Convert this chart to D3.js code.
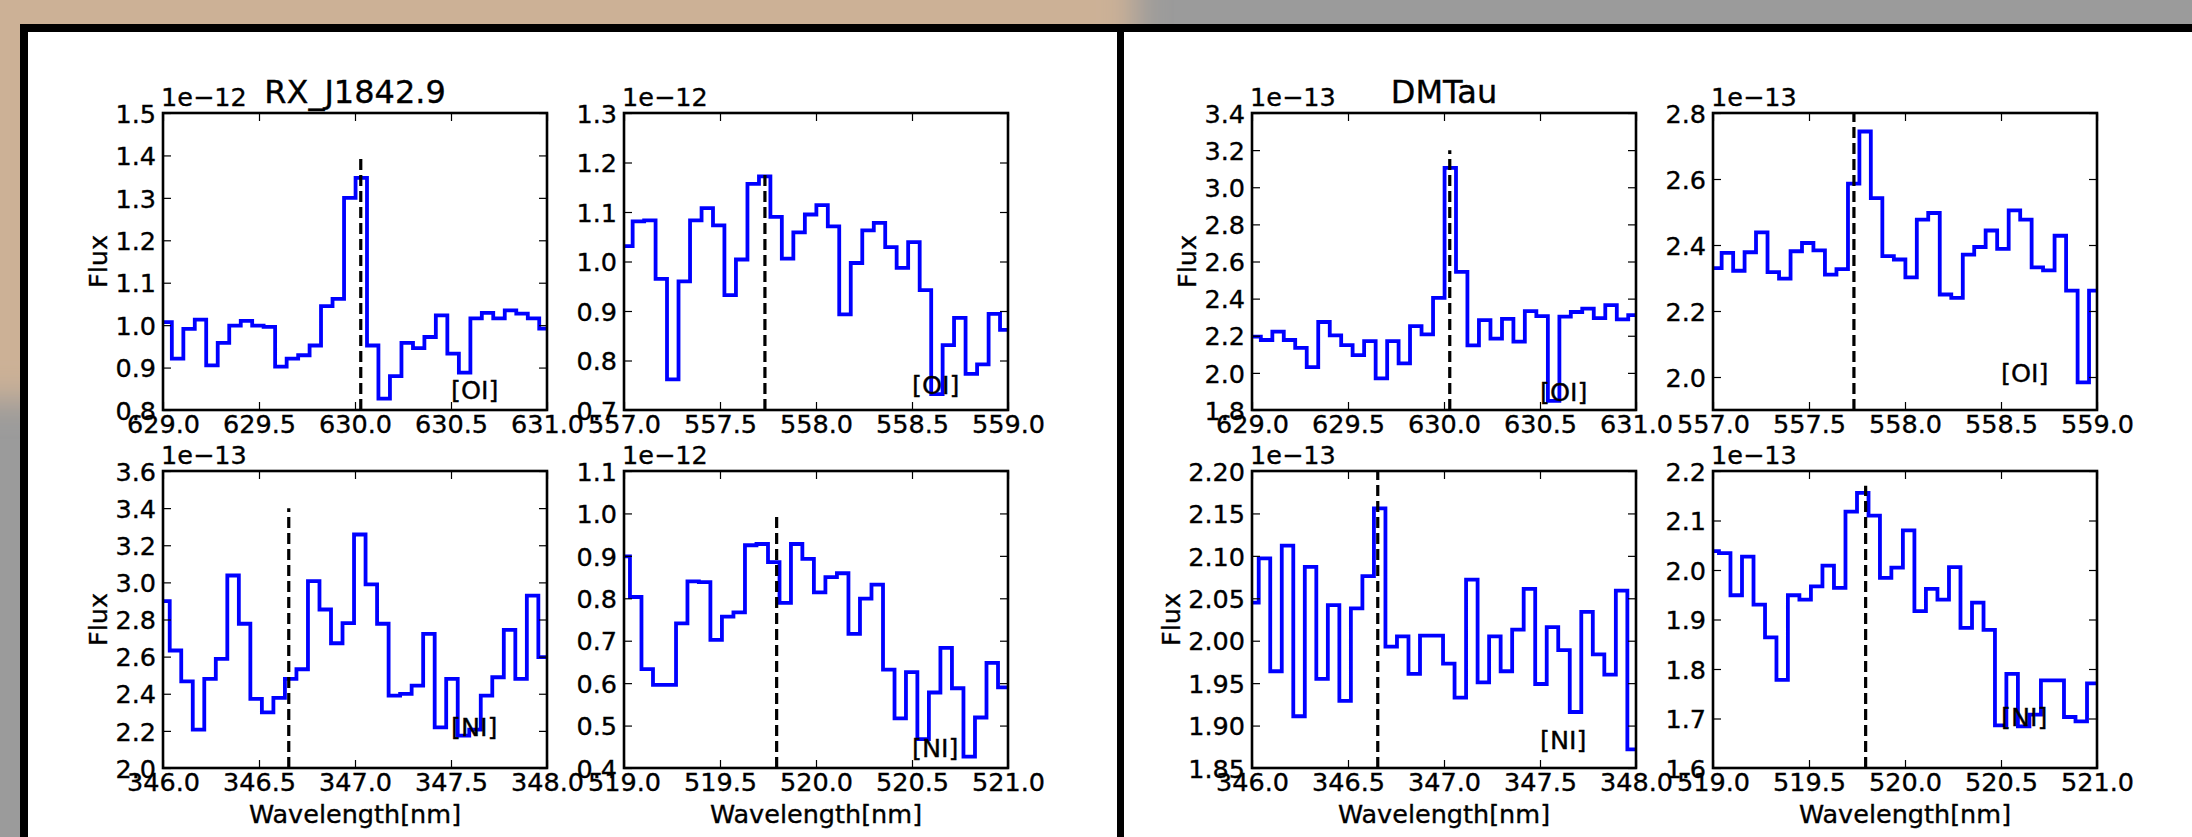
<!DOCTYPE html>
<html>
<head>
<meta charset="utf-8">
<script src="https://cdn.jsdelivr.net/npm/d3@7"></script>
<style>
  body { margin: 0; overflow: hidden; background: #9b9b9b; }
  text { font-family: "DejaVu Sans", sans-serif; fill: #000; stroke: #000; stroke-width: 0.35px; }
</style>
</head>
<body>
<div id="chart"></div>
<script>
// WAVELENGTH GRIDS (BIN CENTRES, nm) - SAME FOR BOTH STARS
const wave630 = [629.016, 629.076, 629.136, 629.195, 629.255, 629.315, 629.375, 629.435, 629.494, 629.554, 629.614, 629.674, 629.734, 629.793, 629.853, 629.913, 629.973, 630.033, 630.092, 630.152, 630.212, 630.272, 630.332, 630.391, 630.451, 630.511, 630.571, 630.631, 630.690, 630.750, 630.810, 630.870, 630.930, 630.989];
const wave557 = [557.015, 557.075, 557.135, 557.194, 557.254, 557.314, 557.374, 557.434, 557.493, 557.553, 557.613, 557.673, 557.733, 557.792, 557.852, 557.912, 557.972, 558.032, 558.091, 558.151, 558.211, 558.271, 558.331, 558.390, 558.450, 558.510, 558.570, 558.630, 558.689, 558.749, 558.809, 558.869, 558.929, 558.988];
const wave346 = [346.005, 346.065, 346.125, 346.185, 346.245, 346.305, 346.365, 346.425, 346.485, 346.545, 346.605, 346.665, 346.725, 346.785, 346.845, 346.905, 346.965, 347.025, 347.085, 347.145, 347.205, 347.265, 347.325, 347.385, 347.445, 347.505, 347.565, 347.625, 347.685, 347.745, 347.805, 347.865, 347.925, 347.985];
const wave520 = [519.001, 519.061, 519.121, 519.181, 519.241, 519.301, 519.360, 519.420, 519.480, 519.540, 519.600, 519.660, 519.720, 519.780, 519.840, 519.899, 519.959, 520.019, 520.079, 520.139, 520.199, 520.259, 520.319, 520.379, 520.439, 520.498, 520.558, 520.618, 520.678, 520.738, 520.798, 520.858, 520.918, 520.978];

// RX_J1842.9 FLUX (IN UNITS OF THE OFFSET TEXT)
const rxFlux630 = [1.007, 0.921, 0.991, 1.013, 0.905, 0.958, 0.999, 1.010, 0.999, 0.996, 0.902, 0.921, 0.929, 0.952, 1.045, 1.062, 1.300, 1.347, 0.952, 0.827, 0.880, 0.958, 0.946, 0.972, 1.023, 0.933, 0.888, 1.016, 1.029, 1.016, 1.035, 1.027, 1.016, 0.992];
const rxFlux557 = [1.031, 1.081, 1.083, 0.965, 0.762, 0.960, 1.083, 1.108, 1.073, 0.932, 1.004, 1.157, 1.172, 1.090, 1.006, 1.059, 1.095, 1.114, 1.071, 0.893, 0.997, 1.063, 1.078, 1.029, 0.987, 1.039, 0.942, 0.732, 0.831, 0.886, 0.773, 0.792, 0.894, 0.862];
const rxFlux346 = [2.899, 2.633, 2.467, 2.207, 2.480, 2.588, 3.037, 2.777, 2.372, 2.300, 2.378, 2.480, 2.532, 3.007, 2.854, 2.672, 2.780, 3.258, 2.989, 2.777, 2.390, 2.399, 2.444, 2.723, 2.219, 2.480, 2.174, 2.207, 2.390, 2.489, 2.744, 2.480, 2.929, 2.597];
const rxFlux520 = [0.899, 0.803, 0.633, 0.596, 0.596, 0.741, 0.840, 0.838, 0.702, 0.757, 0.767, 0.925, 0.928, 0.885, 0.789, 0.928, 0.893, 0.814, 0.850, 0.859, 0.716, 0.799, 0.832, 0.632, 0.517, 0.626, 0.468, 0.578, 0.683, 0.588, 0.427, 0.519, 0.648, 0.590];

// DMTau FLUX
const dmFlux630 = [2.195, 2.177, 2.222, 2.177, 2.135, 2.031, 2.274, 2.202, 2.150, 2.096, 2.171, 1.970, 2.171, 2.051, 2.252, 2.207, 2.404, 3.104, 2.544, 2.148, 2.284, 2.184, 2.291, 2.168, 2.333, 2.306, 1.849, 2.303, 2.328, 2.346, 2.295, 2.365, 2.288, 2.311];
const dmFlux557 = [2.330, 2.376, 2.322, 2.378, 2.438, 2.318, 2.298, 2.381, 2.406, 2.384, 2.310, 2.327, 2.586, 2.744, 2.542, 2.366, 2.356, 2.302, 2.477, 2.497, 2.250, 2.240, 2.371, 2.394, 2.444, 2.388, 2.505, 2.477, 2.332, 2.323, 2.428, 2.262, 1.984, 2.262];
const dmFlux346 = [2.045, 2.097, 1.964, 2.112, 1.911, 2.087, 1.955, 2.042, 1.929, 2.038, 2.076, 2.156, 1.993, 2.005, 1.961, 2.006, 2.006, 1.973, 1.933, 2.072, 1.951, 2.005, 1.964, 2.013, 2.061, 1.949, 2.016, 1.989, 1.916, 2.034, 1.984, 1.960, 2.059, 1.872];
const dmFlux520 = [2.038, 2.034, 1.949, 2.027, 1.930, 1.864, 1.778, 1.949, 1.940, 1.967, 2.009, 1.964, 2.118, 2.156, 2.110, 1.984, 2.005, 2.080, 1.917, 1.962, 1.940, 2.006, 1.883, 1.934, 1.879, 1.686, 1.790, 1.684, 1.708, 1.777, 1.777, 1.703, 1.694, 1.771];

// X TICK LABELS
const xTicks630 = ["629.0", "629.5", "630.0", "630.5", "631.0"];
const xTicks557 = ["557.0", "557.5", "558.0", "558.5", "559.0"];
const xTicks346 = ["346.0", "346.5", "347.0", "347.5", "348.0"];
const xTicks520 = ["519.0", "519.5", "520.0", "520.5", "521.0"];

// Y TICK LABELS AND LIMITS
const rxYTicks630 = ["0.8", "0.9", "1.0", "1.1", "1.2", "1.3", "1.4", "1.5"];
const rxYTicks557 = ["0.7", "0.8", "0.9", "1.0", "1.1", "1.2", "1.3"];
const rxYTicks346 = ["2.0", "2.2", "2.4", "2.6", "2.8", "3.0", "3.2", "3.4", "3.6"];
const rxYTicks520 = ["0.4", "0.5", "0.6", "0.7", "0.8", "0.9", "1.0", "1.1"];
const dmYTicks630 = ["1.8", "2.0", "2.2", "2.4", "2.6", "2.8", "3.0", "3.2", "3.4"];
const dmYTicks557 = ["2.0", "2.2", "2.4", "2.6", "2.8"];
const dmYTicks346 = ["1.85", "1.90", "1.95", "2.00", "2.05", "2.10", "2.15", "2.20"];
const dmYTicks520 = ["1.6", "1.7", "1.8", "1.9", "2.0", "2.1", "2.2"];
const dmYLim557 = [1.9, 2.8];

// LINE MARKERS: REST WAVELENGTH AND TOP OF THE DASHED LINE
const lineNames = ["[OI]", "[OI]", "[NI]", "[NI]"];
const lineWaves = [630.03, 557.734, 346.655, 519.795];
const rxLineTops = [1.4, 1.18, 3.4, 1.0];
const dmLineTops = [3.2, 2.8, 2.2, 2.17];

const stars = ["RX_J1842.9", "DMTau"];
const offsets = [["1e\u221212", "1e\u221212", "1e\u221213", "1e\u221212"], ["1e\u221213", "1e\u221213", "1e\u221213", "1e\u221213"]];

// SET DIMENSIONS
const width = 2192, height = 837;
const axW = 384, axH = 297;
const figLeft = [[163, 624], [1252, 1713]];
const rowTop = [113, 471];
const FS = 25.5;

const svg = d3.select("#chart")
    .append("svg")
    .attr("width", width)
    .attr("height", height);

// BACKGROUND (DESKTOP BEHIND THE TWO WINDOWS)
const defs = svg.append("defs");
defs.append("filter")
    .attr("id", "soft")
    .attr("x", "-20%").attr("y", "-20%").attr("width", "140%").attr("height", "140%")
    .append("feGaussianBlur").attr("stdDeviation", 16);

svg.append("rect").attr("width", width).attr("height", height).attr("fill", "#9b9b9b");
svg.append("rect")
    .attr("x", -80).attr("y", -80).attr("width", 1215).attr("height", 480)
    .attr("fill", "#ccb196")
    .attr("filter", "url(#soft)");

// WINDOWS
svg.append("rect").attr("x", 20).attr("y", 24).attr("width", 1104).attr("height", 900).attr("fill", "#000");
svg.append("rect").attr("x", 28).attr("y", 32).attr("width", 1089).attr("height", 900).attr("fill", "#fff");
svg.append("rect").attr("x", 1117).attr("y", 24).attr("width", 1200).attr("height", 900).attr("fill", "#000");
svg.append("rect").attr("x", 1124).attr("y", 32).attr("width", 1200).attr("height", 900).attr("fill", "#fff");

// BUILD THE PANEL LIST FROM THE ARRAYS
const waves = [wave630, wave557, wave346, wave520];
const xTicks = [xTicks630, xTicks557, xTicks346, xTicks520];
const fluxes = [[rxFlux630, rxFlux557, rxFlux346, rxFlux520], [dmFlux630, dmFlux557, dmFlux346, dmFlux520]];
const yTicks = [[rxYTicks630, rxYTicks557, rxYTicks346, rxYTicks520], [dmYTicks630, dmYTicks557, dmYTicks346, dmYTicks520]];
const lineTops = [rxLineTops, dmLineTops];

const panels = [];
stars.forEach((star, s) => {
    for (let k = 0; k < 4; k++) {
        const yt = yTicks[s][k];
        panels.push({
            star: s, k: k,
            col: k % 2, row: Math.floor(k / 2),
            wave: waves[k], flux: fluxes[s][k],
            xTicks: xTicks[k], yTicks: yt,
            yLim: (s === 1 && k === 1) ? dmYLim557 : [+yt[0], +yt[yt.length - 1]],
            lineWave: lineWaves[k], lineTop: lineTops[s][k], lineName: lineNames[k],
            offset: offsets[s][k]
        });
    }
});

panels.forEach((p, i) => {
    const left = figLeft[p.star][p.col];
    const top = rowTop[p.row];
    const g = svg.append("g").attr("transform", `translate(${left}, ${top})`);

    // SET THE X AND Y SCALES
    const xLim = [+p.xTicks[0], +p.xTicks[p.xTicks.length - 1]];
    const x = d3.scaleLinear().domain(xLim).range([0, axW]);
    const y = d3.scaleLinear().domain(p.yLim).range([axH, 0]);

    defs.append("clipPath").attr("id", `clip${i}`)
        .append("rect").attr("width", axW).attr("height", axH);

    // STEP SPECTRUM, EXTENDED FLAT TO THE AXIS EDGES
    const pts = p.wave.map((w, j) => [w, p.flux[j]]);
    pts.unshift([xLim[0], p.flux[0]]);
    pts.push([xLim[1], p.flux[p.flux.length - 1]]);

    const line = d3.line()
        .x(d => x(d[0]))
        .y(d => y(d[1]))
        .curve(d3.curveStep);

    g.append("path")
        .datum(pts)
        .attr("d", line)
        .attr("clip-path", `url(#clip${i})`)
        .style("fill", "none")
        .style("stroke", "#0000ff")
        .style("stroke-width", 3.8)
        .style("stroke-linejoin", "miter");

    // DASHED LINE AT THE REST WAVELENGTH
    g.append("line")
        .attr("x1", x(p.lineWave)).attr("x2", x(p.lineWave))
        .attr("y1", y(p.yLim[0])).attr("y2", y(p.lineTop))
        .style("stroke", "#000")
        .style("stroke-width", 3.2)
        .style("stroke-dasharray", "11,5");

    // LINE NAME AT THE LOWEST FLUX
    g.append("text")
        .attr("x", x(xLim[0] + 1.5))
        .attr("y", y(d3.min(p.flux)))
        .style("font-size", FS + "px")
        .text(p.lineName);

    // AXES: INWARD TICKS ON ALL FOUR SIDES
    const xVals = p.xTicks.map(Number);
    const yVals = p.yTicks.map(Number);

    const gx = g.append("g")
        .attr("transform", `translate(0, ${axH})`)
        .call(d3.axisBottom(x).tickValues(xVals).tickFormat((d, j) => p.xTicks[j]).tickSize(-8).tickSizeOuter(0).tickPadding(6));
    const gy = g.append("g")
        .call(d3.axisLeft(y).tickValues(yVals).tickFormat((d, j) => p.yTicks[j]).tickSize(-8).tickSizeOuter(0).tickPadding(7));
    const gt = g.append("g")
        .call(d3.axisTop(x).tickValues(xVals).tickFormat("").tickSize(-8).tickSizeOuter(0));
    const gr = g.append("g")
        .attr("transform", `translate(${axW}, 0)`)
        .call(d3.axisRight(y).tickValues(yVals).tickFormat("").tickSize(-8).tickSizeOuter(0));

    [gx, gy, gt, gr].forEach(a => {
        a.select(".domain").remove();
        a.selectAll("line").attr("stroke", "#000").attr("stroke-width", 1.2);
        a.selectAll("text").style("font-size", FS + "px").style("font-family", "DejaVu Sans").attr("fill", "#000");
    });
    gx.selectAll("text").attr("y", 5).attr("dy", "0.72em");
    gy.selectAll("text").attr("dy", "0.36em");

    g.append("rect")
        .attr("width", axW).attr("height", axH)
        .style("fill", "none")
        .style("stroke", "#000")
        .style("stroke-width", 2.6);

    // OFFSET TEXT
    g.append("text")
        .attr("x", -2).attr("y", -7)
        .style("font-size", FS + "px")
        .text(p.offset);

    // AXIS LABELS (Y LABEL SITS LEFT OF THE WIDEST TICK LABEL)
    if (p.col === 0) {
        let tw = 0;
        gy.selectAll("text").each(function () { tw = Math.max(tw, this.getComputedTextLength()); });
        g.append("text")
            .attr("transform", `translate(${-(7 + tw + 8.5)}, ${axH / 2}) rotate(-90)`)
            .attr("text-anchor", "middle")
            .style("font-size", FS + "px")
            .text("Flux");
    }
    if (p.row === 1) {
        g.append("text")
            .attr("x", axW / 2).attr("y", axH + 55)
            .attr("text-anchor", "middle")
            .style("font-size", FS + "px")
            .text("Wavelength[nm]");
    }

    // TITLE ON THE FIRST PANEL OF EACH STAR
    if (p.k === 0) {
        g.append("text")
            .attr("x", axW / 2).attr("y", -10)
            .attr("text-anchor", "middle")
            .style("font-size", "32px")
            .text(stars[p.star]);
    }
});
</script>
</body>
</html>
